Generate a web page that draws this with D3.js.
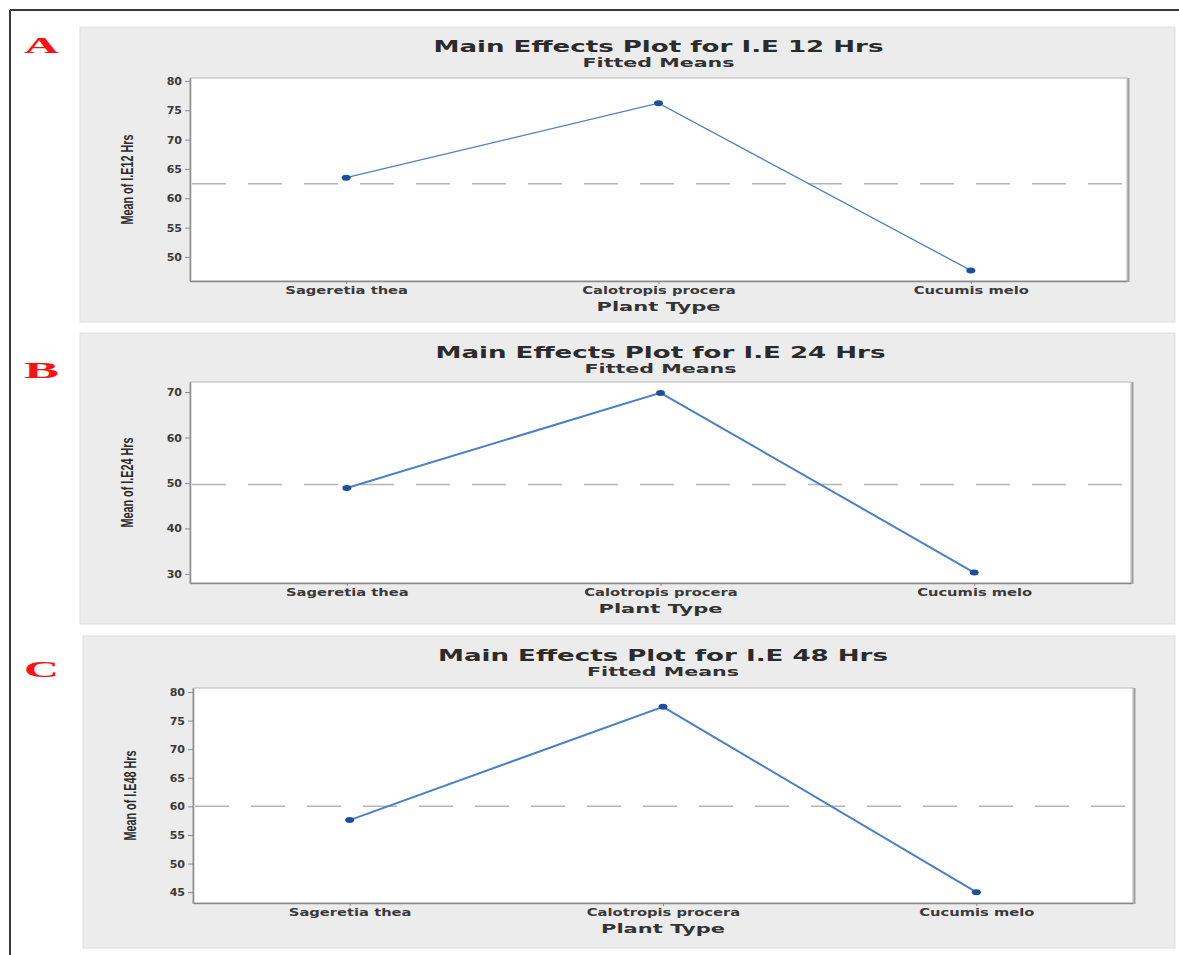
<!DOCTYPE html>
<html>
<head>
<meta charset="utf-8">
<script src="https://cdn.jsdelivr.net/npm/d3@7"></script>
<style>
  body { margin: 0; background: #fff; }
  svg { display: block; }
</style>
</head>
<body>
<div id="chart"></div>
<script>
// categories and fitted means
let plants = ['Sageretia thea', 'Calotropis procera', 'Cucumis melo']
let ie12 = [63.5, 76.2, 47.7]
let ie24 = [48.9, 69.8, 30.3]
let ie48 = [57.6, 77.4, 45.0]

let ticks12 = [50, 55, 60, 65, 70, 75, 80]
let ticks24 = [30, 40, 50, 60, 70]
let ticks48 = [45, 50, 55, 60, 65, 70, 75, 80]

let titles = [
  'Main Effects Plot for I.E 12 Hrs',
  'Main Effects Plot for I.E 24 Hrs',
  'Main Effects Plot for I.E 48 Hrs'
]
let yLabels = ['Mean of I.E12 Hrs', 'Mean of I.E24 Hrs', 'Mean of I.E48 Hrs']
let letters = ['A', 'B', 'C']

let width = 1179
let height = 955

let svg = d3
  .select('#chart')
  .append('svg')
  .attr('width', width)
  .attr('height', height)

// outer frame (top and left only)
svg.append('line')
  .attr('x1', 10).attr('x2', width).attr('y1', 10).attr('y2', 10)
  .attr('stroke', '#3a3a3a').attr('stroke-width', 2)
svg.append('line')
  .attr('x1', 10).attr('x2', 10).attr('y1', 10).attr('y2', height)
  .attr('stroke', '#3a3a3a').attr('stroke-width', 2)

// layout of each panel
let panels = [
  { values: ie12, ticks: ticks12, domain: [45.9, 80.5],
    box: { x: 80, y: 27, w: 1095, h: 295 },
    plot: { x: 190, y: 78, w: 937, h: 203 },
    letterY: 53, lineW: 1.3 },
  { values: ie24, ticks: ticks24, domain: [28.0, 72.2],
    box: { x: 80, y: 333, w: 1095, h: 291 },
    plot: { x: 190, y: 382, w: 941, h: 201 },
    letterY: 378, lineW: 2 },
  { values: ie48, ticks: ticks48, domain: [43.1, 80.7],
    box: { x: 83, y: 636, w: 1092, h: 312 },
    plot: { x: 193, y: 688, w: 940, h: 215 },
    letterY: 677, lineW: 2 }
]

panels.forEach(function(p, i) {
  let g = svg.append('g')

  // gray panel background
  g.append('rect')
    .attr('x', p.box.x).attr('y', p.box.y)
    .attr('width', p.box.w).attr('height', p.box.h)
    .attr('fill', '#ececec')
    .attr('stroke', '#e0e0e0')

  // red panel letter
  g.append('text')
    .attr('x', 24).attr('y', p.letterY)
    .attr('textLength', 35)
    .attr('lengthAdjust', 'spacingAndGlyphs')
    .attr('font-family', 'Liberation Serif, serif')
    .attr('font-weight', 'bold')
    .attr('font-size', 23)
    .attr('fill', '#ff1010')
    .text(letters[i])

  let x = d3.scalePoint()
    .domain(plants)
    .range([p.plot.x, p.plot.x + p.plot.w])
    .padding(0.5)

  let y = d3.scaleLinear()
    .domain(p.domain)
    .range([p.plot.y + p.plot.h, p.plot.y])

  // white plot area with shadowed right edge
  g.append('rect')
    .attr('x', p.plot.x).attr('y', p.plot.y)
    .attr('width', p.plot.w).attr('height', p.plot.h)
    .attr('fill', '#fff')
    .attr('stroke', '#b8b8b8')
  g.append('line')
    .attr('x1', p.plot.x + p.plot.w + 1.5).attr('x2', p.plot.x + p.plot.w + 1.5)
    .attr('y1', p.plot.y).attr('y2', p.plot.y + p.plot.h + 1)
    .attr('stroke', '#a0a0a0').attr('stroke-width', 2)

  // titles
  let cx = p.plot.x + p.plot.w / 2
  g.append('text')
    .attr('x', cx).attr('y', p.box.y + 25)
    .attr('text-anchor', 'middle')
    .attr('textLength', 450)
    .attr('lengthAdjust', 'spacingAndGlyphs')
    .attr('font-family', 'DejaVu Sans, sans-serif')
    .attr('font-weight', 'bold')
    .attr('font-size', 15)
    .attr('fill', '#2b2b2b')
    .text(titles[i])
  g.append('text')
    .attr('x', cx).attr('y', p.box.y + 40)
    .attr('text-anchor', 'middle')
    .attr('textLength', 152)
    .attr('lengthAdjust', 'spacingAndGlyphs')
    .attr('font-family', 'DejaVu Sans, sans-serif')
    .attr('font-weight', 'bold')
    .attr('font-size', 12)
    .attr('fill', '#333')
    .text('Fitted Means')

  // axes
  let yAxis = g.append('g')
    .attr('transform', `translate(${p.plot.x},0)`)
    .call(d3.axisLeft(y).tickValues(p.ticks).tickSize(5).tickPadding(3).tickSizeOuter(0))
  yAxis.select('.domain').attr('stroke', '#8a8a8a').attr('stroke-width', 1.5)
  yAxis.selectAll('.tick line').attr('stroke', '#8a8a8a')
  yAxis.selectAll('.tick text')
    .attr('font-family', 'DejaVu Sans, sans-serif')
    .attr('font-weight', 'bold')
    .attr('font-size', 11)
    .attr('fill', '#3a3a3a')

  let xAxis = g.append('g')
    .attr('transform', `translate(0,${p.plot.y + p.plot.h})`)
    .call(d3.axisBottom(x).tickSize(3).tickPadding(3).tickSizeOuter(0))
  xAxis.select('.domain').attr('stroke', '#8a8a8a').attr('stroke-width', 1.5)
  xAxis.selectAll('.tick line').attr('stroke', '#8a8a8a')
  xAxis.selectAll('.tick text')
    .attr('font-family', 'DejaVu Sans, sans-serif')
    .attr('font-weight', 'bold')
    .attr('font-size', 10.5)
    .attr('fill', '#3a3a3a')
    .each(function() {
      // the source labels are drawn noticeably wider than the glyphs
      let len = this.getComputedTextLength()
      d3.select(this)
        .attr('textLength', len * 1.4)
        .attr('lengthAdjust', 'spacingAndGlyphs')
    })

  // axis titles
  g.append('text')
    .attr('x', cx).attr('y', p.plot.y + p.plot.h + 30)
    .attr('text-anchor', 'middle')
    .attr('textLength', 124)
    .attr('lengthAdjust', 'spacingAndGlyphs')
    .attr('font-family', 'DejaVu Sans, sans-serif')
    .attr('font-weight', 'bold')
    .attr('font-size', 13)
    .attr('fill', '#333')
    .text('Plant Type')

  g.append('text')
    .attr('transform', `translate(${p.plot.x - 57},${p.plot.y + p.plot.h / 2}) rotate(-90)`)
    .attr('text-anchor', 'middle')
    .attr('textLength', 90)
    .attr('lengthAdjust', 'spacingAndGlyphs')
    .attr('font-family', 'Liberation Sans Narrow, Liberation Sans, sans-serif')
    .attr('font-weight', 'bold')
    .attr('font-size', 17)
    .attr('fill', '#2b2b2b')
    .text(yLabels[i])

  // dashed overall mean
  let mean = d3.mean(p.values)
  g.append('line')
    .attr('x1', p.plot.x + 2).attr('x2', p.plot.x + p.plot.w)
    .attr('y1', y(mean)).attr('y2', y(mean))
    .attr('stroke', '#b4b4b4')
    .attr('stroke-width', 1.5)
    .attr('stroke-dasharray', '34,22')

  // main effect line and points
  let line = d3.line()
    .x((d, j) => x(plants[j]))
    .y(d => y(d))
  g.append('path')
    .datum(p.values)
    .attr('d', line)
    .attr('fill', 'none')
    .attr('stroke', '#4a7fc9')
    .attr('stroke-width', p.lineW)

  g.selectAll('.pt')
    .data(p.values)
    .enter()
    .append('ellipse')
    .attr('class', 'pt')
    .attr('cx', (d, j) => x(plants[j]))
    .attr('cy', d => y(d))
    .attr('rx', 4.5)
    .attr('ry', 3)
    .attr('fill', '#1d4f9e')
})
</script>
</body>
</html>
